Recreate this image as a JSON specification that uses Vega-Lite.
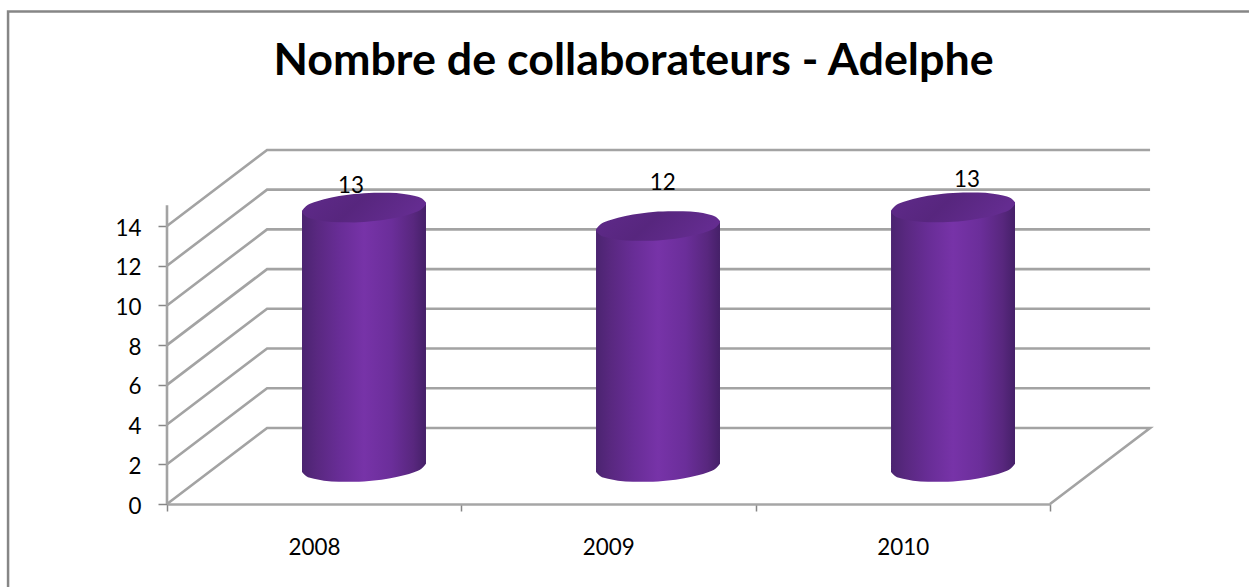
{
"$schema":"https://vega.github.io/schema/vega-lite/v6.json",
"width":883,"height":278,
"autosize":{"type":"none"},
"padding":{"left":167,"top":226,"right":199,"bottom":83},
"background":"white",
"config":{"view":{"stroke":null},"font":"Lato"},
"title":{"text":"Nombre de collaborateurs - Adelphe","font":"Lato","fontSize":44.8,"fontWeight":"bold","color":"#000000","anchor":"middle","frame":"group","dx":25,"offset":-78},
"datasets":{
"frame":[{"o":1,"x":-0.54,"y":-4.18},{"o":2,"x":-0.54,"y":24.8},{"o":3,"x":3.676,"y":24.8}],
"walls":[
{"s":"v0","o":1,"x":0,"y":0},{"s":"v0","o":2,"x":0.34,"y":3.83},{"s":"v0","o":3,"x":3.34,"y":3.83},{"s":"v0","o":4,"x":3,"y":0},
{"s":"v2","o":1,"x":0,"y":2},{"s":"v2","o":2,"x":0.34,"y":5.83},{"s":"v2","o":3,"x":3.34,"y":5.83},
{"s":"v4","o":1,"x":0,"y":4},{"s":"v4","o":2,"x":0.34,"y":7.83},{"s":"v4","o":3,"x":3.34,"y":7.83},
{"s":"v6","o":1,"x":0,"y":6},{"s":"v6","o":2,"x":0.34,"y":9.83},{"s":"v6","o":3,"x":3.34,"y":9.83},
{"s":"v8","o":1,"x":0,"y":8},{"s":"v8","o":2,"x":0.34,"y":11.83},{"s":"v8","o":3,"x":3.34,"y":11.83},
{"s":"v10","o":1,"x":0,"y":10},{"s":"v10","o":2,"x":0.34,"y":13.83},{"s":"v10","o":3,"x":3.34,"y":13.83},
{"s":"v12","o":1,"x":0,"y":12},{"s":"v12","o":2,"x":0.34,"y":15.83},{"s":"v12","o":3,"x":3.34,"y":15.83},
{"s":"v14","o":1,"x":0,"y":14},{"s":"v14","o":2,"x":0.34,"y":17.83},{"s":"v14","o":3,"x":3.34,"y":17.83},
{"s":"axis","o":1,"x":0,"y":0},{"s":"axis","o":2,"x":0,"y":15.05}
],
"bars":[
{"bar":"2008","x":0.4587,"hi":14.771,"lo":14.677,"bt":14.724,"bb":1.61},
{"bar":"2008","x":0.4722,"hi":14.997,"lo":14.477,"bt":14.737,"bb":1.41},
{"bar":"2008","x":0.4994,"hi":15.194,"lo":14.334,"bt":14.764,"bb":1.267},
{"bar":"2008","x":0.5334,"hi":15.351,"lo":14.243,"bt":14.797,"bb":1.176},
{"bar":"2008","x":0.5844,"hi":15.51,"lo":14.184,"bt":14.847,"bb":1.117},
{"bar":"2008","x":0.6353,"hi":15.612,"lo":14.182,"bt":14.897,"bb":1.115},
{"bar":"2008","x":0.6693,"hi":15.655,"lo":14.205,"bt":14.93,"bb":1.138},
{"bar":"2008","x":0.7033,"hi":15.678,"lo":14.248,"bt":14.963,"bb":1.181},
{"bar":"2008","x":0.7542,"hi":15.676,"lo":14.35,"bt":15.013,"bb":1.283},
{"bar":"2008","x":0.8052,"hi":15.617,"lo":14.509,"bt":15.063,"bb":1.442},
{"bar":"2008","x":0.8392,"hi":15.526,"lo":14.666,"bt":15.096,"bb":1.599},
{"bar":"2008","x":0.8664,"hi":15.383,"lo":14.863,"bt":15.123,"bb":1.796},
{"bar":"2008","x":0.8799,"hi":15.183,"lo":15.089,"bt":15.136,"bb":2.022},
{"bar":"2009","x":1.4576,"hi":13.841,"lo":13.747,"bt":13.794,"bb":1.61},
{"bar":"2009","x":1.4711,"hi":14.067,"lo":13.547,"bt":13.807,"bb":1.41},
{"bar":"2009","x":1.4983,"hi":14.264,"lo":13.404,"bt":13.834,"bb":1.267},
{"bar":"2009","x":1.5323,"hi":14.421,"lo":13.313,"bt":13.867,"bb":1.176},
{"bar":"2009","x":1.5833,"hi":14.58,"lo":13.254,"bt":13.917,"bb":1.117},
{"bar":"2009","x":1.6342,"hi":14.682,"lo":13.252,"bt":13.967,"bb":1.115},
{"bar":"2009","x":1.6682,"hi":14.725,"lo":13.275,"bt":14.0,"bb":1.138},
{"bar":"2009","x":1.7022,"hi":14.748,"lo":13.318,"bt":14.033,"bb":1.181},
{"bar":"2009","x":1.7531,"hi":14.746,"lo":13.42,"bt":14.083,"bb":1.283},
{"bar":"2009","x":1.8041,"hi":14.687,"lo":13.579,"bt":14.133,"bb":1.442},
{"bar":"2009","x":1.8381,"hi":14.596,"lo":13.736,"bt":14.166,"bb":1.599},
{"bar":"2009","x":1.8653,"hi":14.453,"lo":13.933,"bt":14.193,"bb":1.796},
{"bar":"2009","x":1.8788,"hi":14.253,"lo":14.159,"bt":14.206,"bb":2.022},
{"bar":"2010","x":2.4599,"hi":14.781,"lo":14.687,"bt":14.734,"bb":1.61},
{"bar":"2010","x":2.4734,"hi":15.007,"lo":14.487,"bt":14.747,"bb":1.41},
{"bar":"2010","x":2.5006,"hi":15.204,"lo":14.344,"bt":14.774,"bb":1.267},
{"bar":"2010","x":2.5346,"hi":15.361,"lo":14.253,"bt":14.807,"bb":1.176},
{"bar":"2010","x":2.5856,"hi":15.52,"lo":14.194,"bt":14.857,"bb":1.117},
{"bar":"2010","x":2.6365,"hi":15.622,"lo":14.192,"bt":14.907,"bb":1.115},
{"bar":"2010","x":2.6705,"hi":15.665,"lo":14.215,"bt":14.94,"bb":1.138},
{"bar":"2010","x":2.7045,"hi":15.688,"lo":14.258,"bt":14.973,"bb":1.181},
{"bar":"2010","x":2.7554,"hi":15.686,"lo":14.36,"bt":15.023,"bb":1.283},
{"bar":"2010","x":2.8064,"hi":15.627,"lo":14.519,"bt":15.073,"bb":1.442},
{"bar":"2010","x":2.8404,"hi":15.536,"lo":14.676,"bt":15.106,"bb":1.599},
{"bar":"2010","x":2.8676,"hi":15.393,"lo":14.873,"bt":15.133,"bb":1.796},
{"bar":"2010","x":2.8811,"hi":15.193,"lo":15.099,"bt":15.146,"bb":2.022}
],
"labels":[
{"year":"2008","value":13,"x":0.625,"y":16.03},
{"year":"2009","value":12,"x":1.684,"y":16.17},
{"year":"2010","value":13,"x":2.718,"y":16.32}
]
},
"encoding":{
"x":{"field":"x","type":"quantitative","scale":{"domain":[0,3],"nice":false,"zero":false,"clamp":false},
"axis":{"title":null,"grid":false,"values":[0,1,2,3],"domain":true,"domainColor":"#A6A6A6","domainWidth":2.5,"tickColor":"#868686","tickWidth":1.5,"tickSize":7,"labelExpr":"datum.value<3 ? ''+(2008+datum.value) : ''","labelOffset":147,"labelPadding":25,"labelFont":"Lato","labelFontSize":22.4,"labelColor":"#000000","labelOverlap":false,"labelFlush":false,"labelBound":false}},
"y":{"field":"y","type":"quantitative","scale":{"domain":[0,14],"nice":false,"zero":false},
"axis":{"title":null,"grid":false,"values":[0,2,4,6,8,10,12,14],"domain":false,"tickColor":"#868686","tickWidth":1.5,"tickSize":9,"labelPadding":17,"labelFont":"Lato","labelFontSize":22.4,"labelColor":"#000000","labelOffset":2,"labelOverlap":false,"labelFlush":false,"labelBound":false}}
},
"layer":[
{"data":{"name":"frame"},"mark":{"type":"line","stroke":"#868686","strokeWidth":2.5,"clip":false},"encoding":{"order":{"field":"o"}}},
{"data":{"name":"walls"},"mark":{"type":"line","stroke":"#A3A3A3","strokeWidth":2.6,"clip":false},"encoding":{"detail":{"field":"s"},"order":{"field":"o"}}},
{"data":{"name":"bars"},"mark":{"type":"area","clip":false,"interpolate":"monotone","color":{"gradient":"linear","x1":0,"y1":0,"x2":1,"y2":0,"stops":[{"offset":0,"color":"#4B2470"},{"offset":0.12,"color":"#592880"},{"offset":0.3,"color":"#682D96"},{"offset":0.5,"color":"#7733A8"},{"offset":0.72,"color":"#6B2E9A"},{"offset":0.9,"color":"#58277E"},{"offset":1,"color":"#452068"}]}},
"encoding":{"detail":{"field":"bar"},"y":{"field":"bb","type":"quantitative"},"y2":{"field":"bt"}}},
{"data":{"name":"bars"},"mark":{"type":"area","clip":false,"interpolate":"monotone","color":{"gradient":"linear","x1":0,"y1":0,"x2":1,"y2":0.25,"stops":[{"offset":0,"color":"#5F2A8A"},{"offset":0.5,"color":"#57267E"},{"offset":1,"color":"#642C90"}]}},
"encoding":{"detail":{"field":"bar"},"y":{"field":"lo","type":"quantitative"},"y2":{"field":"hi"}}},
{"data":{"name":"labels"},"mark":{"type":"text","font":"Lato","fontSize":22.4,"color":"#000000","baseline":"middle","align":"center","clip":false},"encoding":{"text":{"field":"value","type":"quantitative"}}}
]
}
